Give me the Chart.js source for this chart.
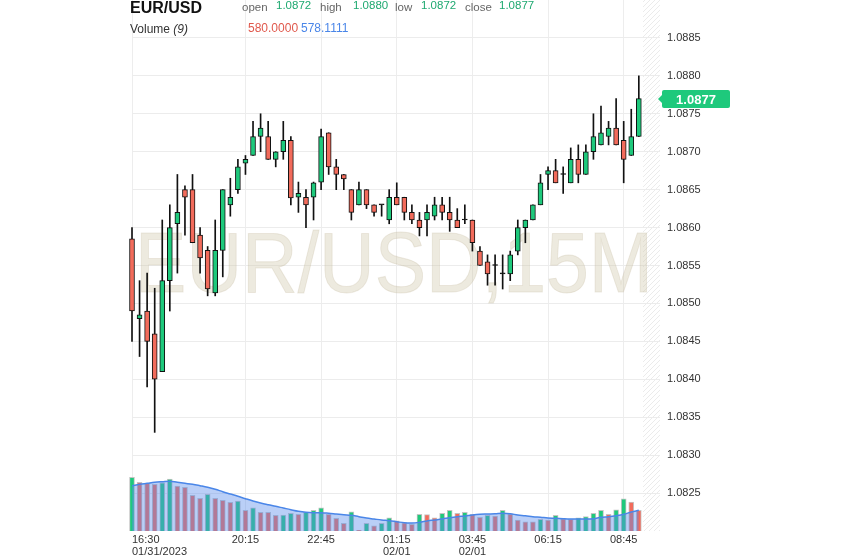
<!DOCTYPE html>
<html>
<head>
<meta charset="utf-8">
<title>EUR/USD 15M</title>
<script src="https://cdn.jsdelivr.net/npm/chart.js@4.4.0/dist/chart.umd.min.js"></script>
<style>
  html, body { margin: 0; padding: 0; background: #fff; }
  #wrap { position: relative; width: 843px; height: 558px; font-family: Arial, "Liberation Sans", sans-serif; }
  #chart { position: absolute; left: 0; top: 0; }
  .hd { position: absolute; white-space: nowrap; z-index: 2; }
  .lbl { top: 2px; font-size: 11.5px; line-height: 11.5px; color: #666; }
  .val { top: 0; font-size: 11.5px; line-height: 11.5px; color: #1fa971; }
</style>
</head>
<body>
<div id="wrap">
  <canvas id="chart" width="843" height="558"></canvas>
  <div class="hd" style="left:130px;top:0;font-size:16px;line-height:16px;font-weight:bold;color:#111">EUR/USD</div>
  <div class="hd" style="left:130px;top:23px;font-size:12px;line-height:12px;color:#333">Volume <i>(9)</i></div>
  <div class="hd lbl" style="left:242px">open</div>
  <div class="hd val" id="hOpen" style="left:276px"></div>
  <div class="hd lbl" style="left:320px">high</div>
  <div class="hd val" id="hHigh" style="left:353px"></div>
  <div class="hd lbl" style="left:395px">low</div>
  <div class="hd val" id="hLow" style="left:421px"></div>
  <div class="hd lbl" style="left:465px">close</div>
  <div class="hd val" id="hClose" style="left:499px"></div>
  <div class="hd" id="hVol" style="left:248px;top:22px;font-size:12px;line-height:12px;color:#e0584c"></div>
  <div class="hd" id="hMa" style="left:301px;top:22px;font-size:12px;line-height:12px;color:#4a86e8"></div>
</div>
<script>
// 15 minute candles, 01/31 16:30 -> 02/01 09:15
const times = ["16:30","16:45","17:00","17:15","17:30","17:45","18:00","18:15","18:30","18:45",
  "19:00","19:15","19:30","19:45","20:00","20:15","20:30","20:45","21:00","21:15",
  "21:30","21:45","22:00","22:15","22:30","22:45","23:00","23:15","23:30","23:45",
  "00:00","00:15","00:30","00:45","01:00","01:15","01:30","01:45","02:00","02:15",
  "02:30","02:45","03:00","03:15","03:30","03:45","04:00","04:15","04:30","04:45",
  "05:00","05:15","05:30","05:45","06:00","06:15","06:30","06:45","07:00","07:15",
  "07:30","07:45","08:00","08:15","08:30","08:45","09:00","09:15"];

const opens = [1.08585,1.08480,1.08490,1.08460,1.08410,1.08530,1.08605,1.08650,1.08650,1.08590,
  1.08570,1.08514,1.08570,1.08630,1.08650,1.08685,1.08695,1.08720,1.08720,1.08690,
  1.08700,1.08715,1.08640,1.08640,1.08640,1.08660,1.08725,1.08680,1.08670,1.08650,
  1.08630,1.08650,1.08630,1.08630,1.08610,1.08640,1.08640,1.08620,1.08610,1.08610,
  1.08615,1.08630,1.08620,1.08610,1.08610,1.08610,1.08569,1.08555,1.08550,1.08539,
  1.08539,1.08569,1.08600,1.08610,1.08630,1.08670,1.08675,1.08670,1.08659,1.08690,
  1.08670,1.08700,1.08709,1.08720,1.08731,1.08715,1.08695,1.08720];
const highs = [1.08600,1.08530,1.08540,1.08520,1.08610,1.08630,1.08670,1.08655,1.08670,1.08600,
  1.08575,1.08610,1.08650,1.08665,1.08690,1.08695,1.08740,1.08750,1.08740,1.08700,
  1.08740,1.08720,1.08660,1.08650,1.08660,1.08730,1.08725,1.08690,1.08670,1.08650,
  1.08660,1.08650,1.08630,1.08630,1.08650,1.08659,1.08640,1.08630,1.08620,1.08630,
  1.08640,1.08640,1.08640,1.08625,1.08630,1.08610,1.08575,1.08564,1.08564,1.08564,
  1.08569,1.08610,1.08610,1.08630,1.08670,1.08680,1.08690,1.08680,1.08705,1.08709,
  1.08709,1.08750,1.08760,1.08740,1.08770,1.08740,1.08756,1.08800];
const lows = [1.08450,1.08430,1.08390,1.08330,1.08410,1.08490,1.08540,1.08590,1.08580,1.08540,
  1.08510,1.08510,1.08535,1.08615,1.08645,1.08670,1.08695,1.08700,1.08690,1.08680,
  1.08690,1.08630,1.08620,1.08600,1.08610,1.08650,1.08670,1.08650,1.08650,1.08610,
  1.08630,1.08625,1.08615,1.08615,1.08605,1.08630,1.08610,1.08605,1.08589,1.08589,
  1.08610,1.08610,1.08595,1.08600,1.08605,1.08569,1.08550,1.08524,1.08524,1.08519,
  1.08530,1.08564,1.08580,1.08610,1.08630,1.08650,1.08659,1.08645,1.08659,1.08659,
  1.08670,1.08690,1.08709,1.08709,1.08709,1.08659,1.08695,1.08720];
const closes = [1.08490,1.08485,1.08450,1.08400,1.08530,1.08600,1.08620,1.08640,1.08580,1.08560,
  1.08519,1.08570,1.08650,1.08640,1.08680,1.08690,1.08720,1.08731,1.08690,1.08700,
  1.08715,1.08639,1.08645,1.08630,1.08659,1.08720,1.08680,1.08670,1.08664,1.08620,
  1.08650,1.08630,1.08620,1.08630,1.08640,1.08630,1.08620,1.08610,1.08600,1.08620,
  1.08630,1.08620,1.08610,1.08600,1.08610,1.08580,1.08550,1.08539,1.08550,1.08539,
  1.08564,1.08600,1.08610,1.08630,1.08659,1.08675,1.08659,1.08670,1.08690,1.08670,
  1.08700,1.08720,1.08725,1.08731,1.08709,1.08690,1.08720,1.08770];

const volumes = [1504,1364,1336,1308,1352,1456,1260,1224,1000,916,
  1028,916,860,804,840,580,652,524,520,440,
  446,496,468,524,580,652,468,356,216,540,
  20,216,148,216,372,288,232,188,468,460,
  372,496,580,496,524,468,384,440,420,580,
  476,308,260,256,328,308,440,344,328,372,
  401,496,580,468,596,900,810,580];
// Volume MA(9) as drawn
const volumeMA = [1268,1308,1336,1364,1380,1392,1364,1336,1308,1268,
  1224,1168,1100,1036,972,904,840,784,736,692,
  644,596,552,524,512,512,496,476,456,440,
  400,364,336,308,288,260,232,224,244,280,
  308,336,372,400,420,448,468,476,484,496,
  484,448,428,400,384,364,356,344,336,336,
  336,344,384,400,428,468,532,578.1111];

const tickTimes = ["16:30","20:15","22:45","01:15","03:45","06:15","08:45"];
const tickDates = ["01/31/2023","","","02/01","02/01","",""];
const priceTicks = [1.0825,1.0830,1.0835,1.0840,1.0845,1.0850,1.0855,1.0860,1.0865,1.0870,1.0875,1.0880,1.0885];

const N = times.length;
const UP = "#1ec97c", DOWN = "#f26b5b";
const xMax = 70.8;
const tickPos = tickTimes.map(t => times.indexOf(t) + 1);

// header readout for the last candle
document.getElementById("hOpen").textContent = opens[N - 1].toFixed(4);
document.getElementById("hHigh").textContent = highs[N - 1].toFixed(4);
document.getElementById("hLow").textContent = lows[N - 1].toFixed(4);
document.getElementById("hClose").textContent = closes[N - 1].toFixed(4);
document.getElementById("hVol").textContent = volumes[N - 1].toFixed(4);
document.getElementById("hMa").textContent = volumeMA[N - 1].toFixed(4);

function candleColor(i) {
    if (closes[i] > opens[i]) return UP;
    if (closes[i] < opens[i]) return DOWN;
    return "#111";
}
function volColor(i) {
    return (i === 0 || volumes[i] > volumes[i - 1]) ? UP : DOWN;
}

const decor = {
    id: "decor",
    beforeDatasetsDraw(chart) {
        const ctx = chart.ctx, ca = chart.chartArea;
        // hatched strip at the right edge
        ctx.save();
        ctx.beginPath();
        ctx.rect(ca.right - 17, ca.top, 17, ca.bottom - ca.top);
        ctx.clip();
        ctx.beginPath();
        ctx.strokeStyle = "#ebebeb";
        ctx.lineWidth = 1;
        for (let y = ca.top - 20; y < ca.bottom + 20; y += 5) {
            ctx.moveTo(ca.right - 17, y + 17);
            ctx.lineTo(ca.right, y);
        }
        ctx.stroke();
        ctx.restore();

        // watermark
        ctx.save();
        ctx.font = "86px Arial, 'Liberation Sans', sans-serif";
        const txt = "EUR/USD,15M";
        const w = ctx.measureText(txt).width;
        ctx.translate(ca.left + 3, 292);
        ctx.scale(518 / w, 1);
        ctx.fillStyle = "rgba(205,196,165,0.36)";
        ctx.strokeStyle = "rgba(190,180,150,0.25)";
        ctx.lineWidth = 1;
        ctx.textBaseline = "alphabetic";
        ctx.fillText(txt, 0, 0);
        ctx.strokeText(txt, 0, 0);
        ctx.restore();
    },
    afterDraw(chart) {
        // last price marker on the price axis
        const ctx = chart.ctx, ca = chart.chartArea;
        const y = Math.round(chart.scales.y.getPixelForValue(closes[N - 1]));
        const x0 = ca.right + 2;
        ctx.save();
        ctx.fillStyle = UP;
        ctx.beginPath();
        ctx.moveTo(x0 - 4, y);
        ctx.lineTo(x0, y - 4);
        ctx.lineTo(x0, y + 4);
        ctx.closePath();
        ctx.fill();
        ctx.beginPath();
        ctx.roundRect(x0, y - 9, 68, 18, 2);
        ctx.fill();
        ctx.fillStyle = "#fff";
        ctx.font = "bold 13px Arial, 'Liberation Sans', sans-serif";
        ctx.textAlign = "center";
        ctx.textBaseline = "middle";
        ctx.fillText(closes[N - 1].toFixed(4), x0 + 34, y + 1);
        ctx.restore();
    }
};

new Chart(document.getElementById("chart"), {
    type: "bar",
    data: {
        datasets: [
            {
                label: "wick",
                data: times.map((t, i) => ({ x: i + 1, y: [lows[i], highs[i]] })),
                backgroundColor: "#111",
                barThickness: 1,
                grouped: false,
                yAxisID: "y",
                order: 4,
                clip: false
            },
            {
                label: "body",
                data: times.map((t, i) => ({ x: i + 1, y: [Math.min(opens[i], closes[i]), Math.max(opens[i], closes[i])] })),
                backgroundColor: times.map((t, i) => candleColor(i)),
                borderColor: "#111",
                borderWidth: 1,
                borderSkipped: false,
                barThickness: 5,
                minBarLength: 1,
                grouped: false,
                yAxisID: "y",
                order: 3,
                clip: false
            },
            {
                label: "volume",
                data: volumes.map((v, i) => ({ x: i + 1, y: v })),
                backgroundColor: volumes.map((v, i) => volColor(i)),
                borderColor: "#c4c4c4",
                borderWidth: 1,
                barThickness: 5,
                grouped: false,
                yAxisID: "vol",
                order: 2,
                clip: false
            },
            {
                type: "line",
                label: "MA(9)",
                data: volumeMA.map((v, i) => ({ x: i + 1, y: v })),
                borderColor: "#4a86e8",
                borderWidth: 1.5,
                backgroundColor: "rgba(90,140,235,0.42)",
                fill: "origin",
                pointRadius: 0,
                tension: 0.4,
                yAxisID: "vol",
                order: 1
            }
        ]
    },
    options: {
        responsive: false,
        animation: false,
        events: [],
        layout: { padding: { left: 132, top: 0, right: 0, bottom: 0 } },
        plugins: { legend: { display: false }, tooltip: { enabled: false } },
        scales: {
            x: {
                type: "linear",
                offset: false,
                min: 1,
                max: xMax,
                afterBuildTicks: ax => { ax.ticks = tickPos.map(v => ({ value: v })).concat([{ value: xMax }]); },
                afterFit: ax => { ax.height = 27; ax.paddingLeft = 0; ax.paddingRight = 0; },
                ticks: {
                    autoSkip: false,
                    maxRotation: 0,
                    align: "inner",
                    padding: 3,
                    color: "#333",
                    font: { family: "Arial", size: 11, lineHeight: 1.1 },
                    callback: v => {
                        const k = tickPos.indexOf(v);
                        if (k < 0) return "";
                        return tickDates[k] ? [tickTimes[k], tickDates[k]] : tickTimes[k];
                    }
                },
                grid: {
                    offset: false,
                    color: c => (c.tick && c.tick.value === xMax) ? "rgba(0,0,0,0)" : "#ededed",
                    drawTicks: false
                },
                border: { display: false }
            },
            y: {
                type: "linear",
                position: "right",
                min: 1.0820,
                max: 1.0890,
                afterBuildTicks: ax => { ax.ticks = priceTicks.map(v => ({ value: v })); },
                afterFit: ax => { ax.width = 183; ax.paddingTop = 0; ax.paddingBottom = 0; },
                ticks: {
                    padding: 7,
                    color: "#333",
                    font: { family: "Arial", size: 11 },
                    callback: v => v.toFixed(4)
                },
                grid: { color: "#ececec", drawTicks: false },
                border: { display: false }
            },
            vol: {
                type: "linear",
                display: false,
                min: 0,
                max: 14868
            }
        }
    },
    plugins: [decor]
});
</script>
</body>
</html>
